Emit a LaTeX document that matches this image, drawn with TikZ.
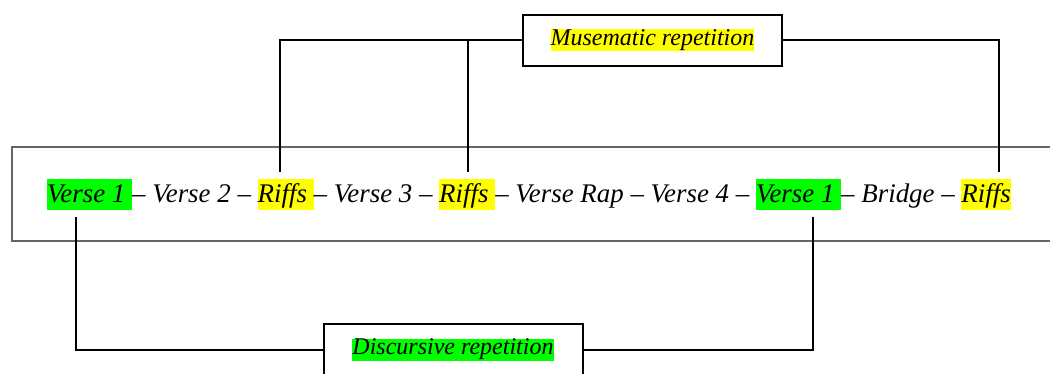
\documentclass[tikz,border=0pt]{standalone}
\usepackage{fontspec}
\setmainfont{Liberation Serif}
\usetikzlibrary{positioning}
\definecolor{hlgreen}{RGB}{0,255,0}
\definecolor{hlyellow}{RGB}{255,255,0}
\tikzset{
   seg/.style={inner xsep=0pt, inner ysep=0pt, outer xsep=0pt, outer ysep=3.5pt, text height=12pt, text depth=3.5pt, font=\fontsize{13.45}{15}\selectfont\itshape},
   green seg/.style={seg, fill=hlgreen},
   yellow seg/.style={seg, fill=hlyellow},
   tag box/.style={draw=black, line width=1pt, minimum width=129.5pt, minimum height=25.5pt, inner sep=0pt, font=\fontsize{12}{14}\selectfont\itshape},
   link/.style={draw=black, line width=1pt}
}
\newcommand{\hl}[2]{{\setlength{\fboxsep}{0pt}\colorbox{#1}{\rule[-3pt]{0pt}{11pt}#2}}}
\newcommand{\gap}{\kern.25em}

\begin{document}
\begin{tikzpicture}[x=0.5pt, y=-0.5pt]
  \useasboundingbox (0,0) rectangle (1050,374);
  \clip (0,0) rectangle (1050,374);

  % song structure line
  \draw[black!60, line width=0.6pt] (12,147) rectangle (1070,241);
  \node[green seg, anchor=base west] at (47,203) (verseA) {Verse 1\gap};
  \node[seg, base right=0pt of verseA]     (partA)  {– Verse 2 –\gap};
  \node[yellow seg, base right=0pt of partA]  (riffsA) {Riffs\gap};
  \node[seg, base right=0pt of riffsA]     (partB)  {– Verse 3 –\gap};
  \node[yellow seg, base right=0pt of partB]  (riffsB) {Riffs\gap};
  \node[seg, base right=0pt of riffsB]     (partC)  {– Verse Rap – Verse 4 –\gap};
  \node[green seg, base right=0pt of partC]   (verseB) {Verse 1\gap};
  \node[seg, base right=0pt of verseB]     (partD)  {– Bridge –\gap};
  \node[yellow seg, base right=0pt of partD]  (riffsC) {Riffs};

  % repetition labels
  \node[tag box] at (652.5,40.5) (muse) {\hl{hlyellow}{Musematic repetition}};
  \node[tag box] at (453,349.5)  (disc) {\hl{hlgreen}{Discursive repetition}};

  \draw[link] ([xshift=-3pt]riffsA.north) |- (muse.west);
  \draw[link] ([xshift=0.5pt]riffsB.north) -- ([xshift=0.5pt]riffsB.north |- muse.west);
  \draw[link] ([xshift=6.5pt]riffsC.north) |- (muse.east);
  \draw[link] ([xshift=-7pt]verseA.south) |- (disc.west);
  \draw[link] ([xshift=7pt]verseB.south) |- (disc.east);
\end{tikzpicture}
\end{document}
